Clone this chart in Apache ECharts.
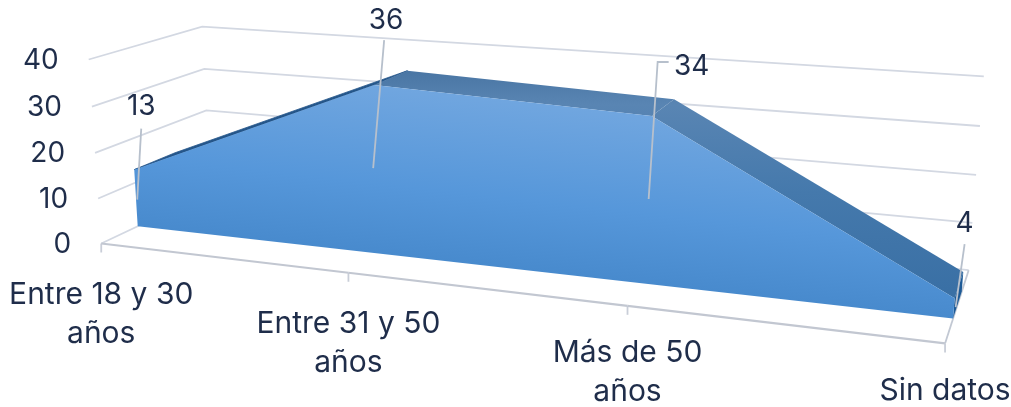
<!DOCTYPE html>
<html><head><meta charset="utf-8">
<style>html,body{margin:0;padding:0;background:#fff}#c{width:1011px;height:407px}</style>
<script src="https://cdn.jsdelivr.net/npm/echarts@6/dist/echarts.min.js"></script>
</head><body><div id="c"></div>
<script>
const categories = ['Entre 18 y 30\naños', 'Entre 31 y 50\naños', 'Más de 50\naños', 'Sin datos'];
const values = [13, 36, 34, 4];
const yTicks = [0, 10, 20, 30, 40];

// Camera: where the plot box's corners land on screen (u along x, d into depth, w up)
const camera = [
 [0,0,0,102,243],[1/3,0,0,349,273],[2/3,0,0,627,308],[1,0,0,945,342],
 [0,0,.25,98,199],[0,0,.5,95,153],[0,0,.75,92,106],[0,0,1,88,59],
 [0,1,0,209,191],[0,1,.5,207,111],[0,1,.75,205,69],[0,1,1,202,27],
 [1,1,0,968,270],[1,1,.25,973,223],[1,1,.5,977,175],[1,1,.75,980,126],[1,1,1,983,76]
];
const depthFront = 0.31, depthBack = 0.68;
const gridBox = {left: 100, top: 40, width: 800, height: 300};

function solve(A, b) {
  const n = b.length; const M = A.map((r, i) => r.concat(b[i]));
  for (let i = 0; i < n; i++) {
    let p = i; for (let k = i + 1; k < n; k++) if (Math.abs(M[k][i]) > Math.abs(M[p][i])) p = k;
    [M[i], M[p]] = [M[p], M[i]];
    for (let k = 0; k < n; k++) if (k !== i) {
      const f = M[k][i] / M[i][i];
      for (let j = i; j <= n; j++) M[k][j] -= f * M[i][j];
    }
  }
  return M.map((r, i) => r[n] / r[i]);
}
const P = (function () {
  const rows = [], rhs = [];
  camera.forEach(([u, d, w, x, y]) => {
    const X = x / 1000, Y = y / 1000;
    rows.push([u, d, w, 1, 0, 0, 0, 0, -X * u, -X * d, -X * w]); rhs.push(X);
    rows.push([0, 0, 0, 0, u, d, w, 1, -Y * u, -Y * d, -Y * w]); rhs.push(Y);
  });
  const N = 11, A = [], b = [];
  for (let i = 0; i < N; i++) {
    A.push([]); let s = 0;
    for (let j = 0; j < N; j++) { let t = 0; rows.forEach(r => t += r[i] * r[j]); A[i].push(t); }
    rows.forEach((r, k) => s += r[i] * rhs[k]); b.push(s);
  }
  return solve(A, b);
})();
function project(u, d, w) {
  const q = P[8] * u + P[9] * d + P[10] * w + 1;
  return [1000 * (P[0] * u + P[1] * d + P[2] * w + P[3]) / q,
          1000 * (P[4] * u + P[5] * d + P[6] * w + P[7]) / q];
}
// Axis scale -> plot-box fractions -> screen
function place(api, i, v, d) {
  const c = api.coord([i, v]);
  return project((c[0] - gridBox.left) / gridBox.width, d, (gridBox.top + gridBox.height - c[1]) / gridBox.height);
}
const last = categories.length - 1;
const textColor = '#1f2d4a', fontFamily = 'Inter, "Noto Sans", sans-serif';
const G = echarts.graphic.LinearGradient;
const line = (pts, stroke, width) => ({type: 'polyline', shape: {points: pts}, style: {stroke, lineWidth: width, fill: null}, silent: true});
const text = (s, x, y, size, align) => ({type: 'text', style: {text: s, x, y, fill: textColor, font: '400 ' + size + 'px ' + fontFamily, align, verticalAlign: 'middle'}});

function renderWall(params, api) {
  const v = api.value(1);
  const a = place(api, 0, v, 0), b = place(api, 0, v, 1), c = place(api, last, v, 1);
  const kids = [line([a, b, c], '#d3d8e2', 1.8)];
  if (v === 0) kids.push(line([place(api, last, 0, 0), c], '#c2c8d3', 1.8));
  kids.push(text(String(v), a[0] - 30, a[1] + 1, 28, 'right'));
  return {type: 'group', children: kids};
}
const catOffsets = [51, 51, 47, 47];
function renderFloor(params, api) {
  const i = api.value(0);
  const p = place(api, i, 0, 0);
  const kids = [line([p, [p[0], p[1] + 9]], '#c9ced8', 1.8)];
  if (i < last) kids.push(line([p, place(api, i + 1, 0, 0)], '#c2c7d1', 2.2));
  kids.push({type: 'text', style: {text: categories[i], x: p[0], y: p[1] + catOffsets[i] - 19, fill: textColor,
    font: '400 30px ' + fontFamily, align: 'center', verticalAlign: 'top', lineHeight: 39}});
  return {type: 'group', children: kids};
}
function renderArea(params, api) {
  if (params.dataIndex !== 0) return null;
  const front = values.map((v, i) => place(api, i, v, depthFront));
  const back = values.map((v, i) => place(api, i, v, depthBack));
  const base0 = place(api, 0, 0, depthFront), baseN = place(api, last, 0, depthFront), baseB = place(api, last, 0, depthBack);
  const kids = [];
  for (let i = 0; i < last; i++) {
    const quad = [front[i], front[i + 1], back[i + 1], back[i]];
    kids.push({type: 'polygon', shape: {points: quad}, style: {
      fill: i === 0 ? '#24568a' : new G(0, 72, 0, 290, [{offset: 0, color: '#4a76a4'}, {offset: .15, color: '#5985b3'}, {offset: .55, color: '#4579ac'}, {offset: 1, color: '#3a70a5'}], true),
      stroke: i === 0 ? '#24568a' : null, lineWidth: .8}});
  }
  kids.push({type: 'polygon', shape: {points: [baseN, front[last], back[last], baseB]}, style: {fill: '#1d5a96'}});
  const outline = [base0].concat(front, [baseN]);
  kids.push({type: 'polygon', shape: {points: outline}, style: {
    fill: new G(510, 85, 485, 310, [{offset: 0, color: '#74a8e0'}, {offset: .5, color: '#5697da'}, {offset: 1, color: '#3f82c5'}], true)}});
  return {type: 'group', children: kids};
}
// Data labels: leader lines and text, placed relative to each front-top point
const leaderOffsets = [[[7, -41], [3, 30]], [[10, -45], [-1, 83]], [[17, -54], [6, -54], [-3, 83]], [[10, -54], [1, 9]]];
const labelOffsets = [[7, -63], [12, -65], [40, -49], [10, -75]];
function renderLabels(params, api) {
  const i = params.dataIndex, p = place(api, i, api.value(1), depthFront);
  const pts = leaderOffsets[i].map(o => [p[0] + o[0], p[1] + o[1]]);
  return {type: 'group', children: [
    line(pts, '#b7c0cc', 1.8),
    text(String(values[i]), p[0] + labelOffsets[i][0], p[1] + labelOffsets[i][1], 28, 'center')
  ]};
}
const chart = echarts.init(document.getElementById('c'), null, {renderer: 'canvas'});
const valuePairs = values.map((v, i) => [i, v]);
chart.setOption({
  animation: false,
  backgroundColor: '#ffffff',
  grid: gridBox,
  xAxis: {type: 'category', data: categories, boundaryGap: false, show: false},
  yAxis: {type: 'value', min: 0, max: 40, interval: 10, show: false},
  series: [
    {type: 'custom', coordinateSystem: 'cartesian2d', clip: false, z: 1, renderItem: renderWall, data: yTicks.map(v => [0, v]), silent: true},
    {type: 'custom', coordinateSystem: 'cartesian2d', clip: false, z: 2, renderItem: renderFloor, data: categories.map((c, i) => [i, 0]), silent: true},
    {type: 'custom', coordinateSystem: 'cartesian2d', clip: false, z: 3, renderItem: renderArea, data: valuePairs, silent: true},
    {type: 'custom', coordinateSystem: 'cartesian2d', clip: false, z: 4, renderItem: renderLabels, data: valuePairs, silent: true}
  ]
});
</script></body></html>
